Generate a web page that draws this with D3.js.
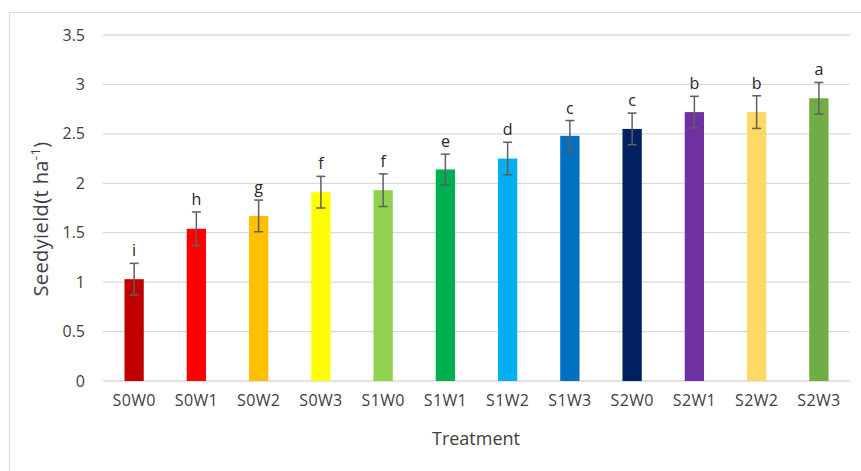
<!DOCTYPE html>
<html><head><meta charset="utf-8">
<script src="https://cdn.jsdelivr.net/npm/d3@7"></script>
<style>body{margin:0;background:#fff}svg{display:block}text{font-family:"Open Sans",sans-serif;fill:#404040}</style>
</head><body>
<svg id="c" width="861" height="471"></svg>
<script>
const categories = ["S0W0","S0W1","S0W2","S0W3","S1W0","S1W1","S1W2","S1W3","S2W0","S2W1","S2W2","S2W3"];
const yieldValues = [1.03,1.54,1.67,1.91,1.93,2.14,2.25,2.48,2.55,2.72,2.72,2.86];
const errorValues = [0.16,0.17,0.16,0.16,0.165,0.155,0.165,0.155,0.16,0.16,0.165,0.16];
const letters = ["i","h","g","f","f","e","d","c","c","b","b","a"];
const colors = ["#C00000","#FF0000","#FFC000","#FFFF00","#92D050","#00B050","#00B0F0","#0070C0","#002060","#7030A0","#FFD966","#70AD47"];
const yTicks = [0,0.5,1,1.5,2,2.5,3,3.5];

const svg = d3.select("#c");
svg.append("rect").attr("x",9.5).attr("y",12.5).attr("width",870).attr("height",480)
  .attr("fill","#fff").attr("stroke","#d9d9d9").attr("stroke-width",1);

const x = d3.scaleBand().domain(categories).range([103,850]).paddingInner(0.69).paddingOuter(0.345);
const y = d3.scaleLinear().domain([0,3.5]).range([381,35]);

// gridlines
svg.append("g").selectAll("line").data(yTicks).join("line")
  .attr("x1",103).attr("x2",850).attr("y1",d=>y(d)).attr("y2",d=>y(d))
  .attr("stroke","#d9d9d9").attr("stroke-width",1.3);

// y axis labels
const yAxis = svg.append("g").attr("transform","translate(103,0)")
  .call(d3.axisLeft(y).tickValues(yTicks).tickSize(0).tickPadding(18).tickFormat(d3.format("~g")));
yAxis.select(".domain").remove();
yAxis.selectAll("text").attr("font-size",16).attr("fill","#404040").attr("font-family","Open Sans");

// x axis labels
const xAxis = svg.append("g").attr("transform","translate(0,381)")
  .call(d3.axisBottom(x).tickSize(0).tickPadding(14));
xAxis.select(".domain").remove();
xAxis.selectAll("text").attr("font-size",16).attr("fill","#404040").attr("font-family","Open Sans")
  .attr("letter-spacing",0.3);

// bars
svg.append("g").selectAll("rect").data(categories).join("rect")
  .attr("x",d=>x(d)).attr("width",x.bandwidth())
  .attr("y",(d,i)=>y(yieldValues[i])).attr("height",(d,i)=>y(0)-y(yieldValues[i]))
  .attr("fill",(d,i)=>colors[i]);

// error bars
const eb = svg.append("g").attr("stroke","#5f5f5f").attr("stroke-width",1.5);
categories.forEach((c,i)=>{
  const cx = x(c)+x.bandwidth()/2;
  const t = y(yieldValues[i]+errorValues[i]), b = y(yieldValues[i]-errorValues[i]);
  eb.append("line").attr("x1",cx).attr("x2",cx).attr("y1",t).attr("y2",b);
  eb.append("line").attr("x1",cx-4.5).attr("x2",cx+4.5).attr("y1",t).attr("y2",t);
  eb.append("line").attr("x1",cx-4.5).attr("x2",cx+4.5).attr("y1",b).attr("y2",b);
});

// letters
svg.append("g").selectAll("text").data(categories).join("text")
  .attr("x",d=>x(d)+x.bandwidth()/2)
  .attr("y",(d,i)=>y(yieldValues[i]+errorValues[i])-7)
  .attr("text-anchor","middle").attr("font-size",16).style("fill","#262626")
  .text((d,i)=>letters[i]);

// axis titles
svg.append("text").attr("x",476).attr("y",445).attr("text-anchor","middle")
  .attr("font-size",18).text("Treatment");
const yt = svg.append("text").attr("transform","translate(48,219) rotate(-90)")
  .attr("text-anchor","middle").attr("font-size",20).attr("letter-spacing",0.4);
yt.append("tspan").text("Seedyield(t ha");
yt.append("tspan").attr("font-size",13).attr("dy",-8).text("-1");
yt.append("tspan").attr("dy",8).text(")");
</script>
</body></html>
